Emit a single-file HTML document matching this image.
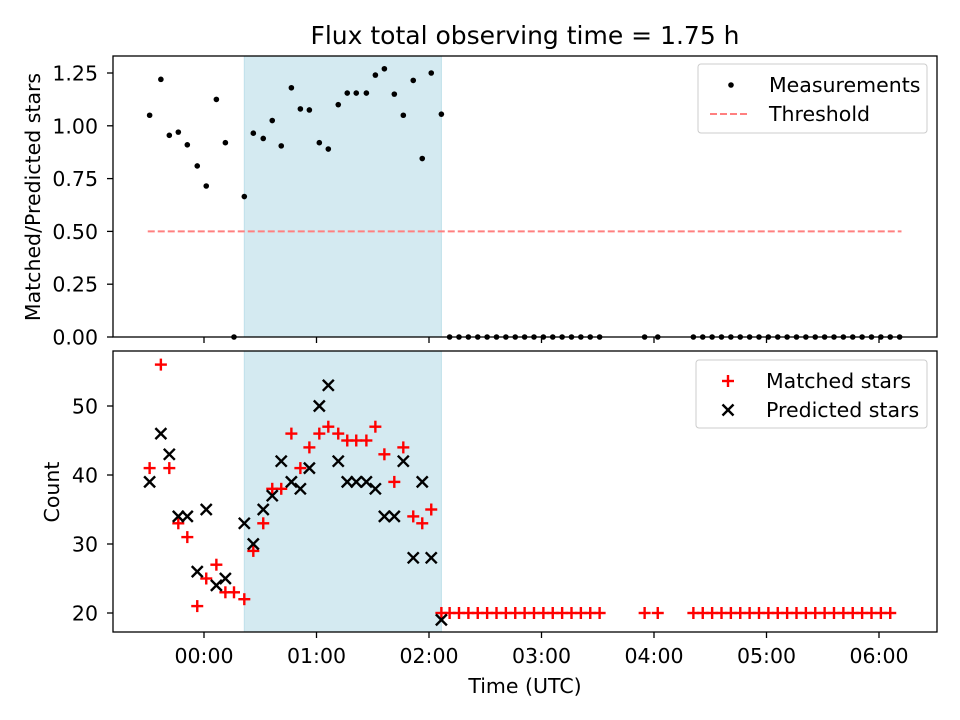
<!DOCTYPE html>
<html><head><meta charset="utf-8"><style>
body{margin:0;background:#fff}
svg{display:block;font-family:"DejaVu Sans","Liberation Sans",sans-serif}
</style></head><body>
<svg id="chart" width="960" height="720" viewBox="0 0 960 720"></svg>
<script>
const measTimes=[-29,-23,-18.5,-13.7,-8.9,-3.6,1.2,6.6,11.4,16,21.5,26.3,31.6,36.4,41.2,46.6,51.4,56.2,61.5,66.3,71.6,76.4,81.2,86.6,91.4,96.2,101.5,106.3,111.6,116.4,121.2,126.6,131,136,141,146,151,156,161,166,171,176,181,186,191,196,201,206,211,235,242,261,266,271,276,281,286,291,296,301,306,311,316,321,326,331,336,341,346,351,356,361,366,371];
const ratios=[1.05,1.22,0.955,0.97,0.91,0.81,0.715,1.125,0.92,0,0.665,0.965,0.94,1.025,0.905,1.18,1.08,1.075,0.92,0.89,1.10,1.155,1.155,1.155,1.24,1.27,1.15,1.05,1.215,0.845,1.25,1.055,0,0,0,0,0,0,0,0,0,0,0,0,0,0,0,0,0,0,0,0,0,0,0,0,0,0,0,0,0,0,0,0,0,0,0,0,0,0,0,0,0,0];
const matched=[41,56,41,33,31,21,25,27,23,23,22,29,33,38,38,46,41,44,46,47,46,45,45,45,47,43,39,44,34,33,35,20,20,20,20,20,20,20,20,20,20,20,20,20,20,20,20,20,20,20,20,20,20,20,20,20,20,20,20,20,20,20,20,20,20,20,20,20,20,20,20,20,20];
const predicted=[39,46,43,34,34,26,35,24,25,null,33,30,35,37,42,39,38,41,50,53,42,39,39,39,38,34,34,42,28,39,28,19];
const xTickMinutes=[0,60,120,180,240,300,360];
const xTickLabels=["00:00","01:00","02:00","03:00","04:00","05:00","06:00"];
const topTicks=[0,0.25,0.5,0.75,1.0,1.25];
const topTickLabels=["0.00","0.25","0.50","0.75","1.00","1.25"];
const botTicks=[20,30,40,50];
const spanStart=21.5, spanEnd=126.6, threshold=0.5, thrStart=-30, thrEnd=372;

const NS="http://www.w3.org/2000/svg";
const svg=document.getElementById('chart');
function el(tag,attrs,parent){const e=document.createElementNS(NS,tag);for(const k in attrs)e.setAttribute(k,attrs[k]);(parent||svg).appendChild(e);return e;}
const L=113,R=937;
const T1=56,B1=337,T2=351,B2=632;
const FS=20.5;
const xs=t=>204+t*1.875;
const y1=v=>337-v*211.2;
const y2=v=>613-(v-20)*6.9;

let s=el('rect',{x:xs(spanStart),y:T1,width:xs(spanEnd)-xs(spanStart),height:B1-T1,fill:'#d4eaf1',stroke:'#bfe0ea'});

s=el('rect',{x:xs(spanStart),y:T2,width:xs(spanEnd)-xs(spanStart),height:B2-T2,fill:'#d4eaf1',stroke:'#bfe0ea'});


let th=el('line',{x1:xs(thrStart),x2:xs(thrEnd),y1:y1(threshold),y2:y1(threshold),stroke:'#ff8080','stroke-width':2,'stroke-dasharray':'7,3'});


const gm=el('g',{});

measTimes.forEach((t,i)=>{const c=el('circle',{cx:xs(t),cy:y1(ratios[i]),r:2.8,fill:'#000'},gm);
});

function plus(x,y,p,c){const g=el('g',{stroke:c,'stroke-width':2.4},p);el('line',{x1:x-6,x2:x+6,y1:y,y2:y},g);el('line',{x1:x,x2:x,y1:y-6,y2:y+6},g);return g;}
function cross(x,y,p,c){const g=el('g',{stroke:c,'stroke-width':2.4},p);el('line',{x1:x-5.5,x2:x+5.5,y1:y-5.5,y2:y+5.5},g);el('line',{x1:x-5.5,x2:x+5.5,y1:y+5.5,y2:y-5.5},g);return g;}
const gms=el('g',{});
matched.forEach((v,i)=>{if(v==null)return;const m=plus(xs(measTimes[i]),y2(v),gms,'#f00');
});
const gps=el('g',{});
predicted.forEach((v,i)=>{if(v==null)return;const m=cross(xs(measTimes[i]),y2(v),gps,'#000');
});

let f=el('rect',{x:L,y:T1,width:R-L,height:B1-T1,fill:'none',stroke:'#000','stroke-width':1.3});

f=el('rect',{x:L,y:T2,width:R-L,height:B2-T2,fill:'none',stroke:'#000','stroke-width':1.3});


xTickMinutes.forEach((m,i)=>{const x=xs(m);
el('line',{x1:x,x2:x,y1:B1,y2:B1+6,stroke:'#000','stroke-width':1.3});
el('line',{x1:x,x2:x,y1:B2,y2:B2+6,stroke:'#000','stroke-width':1.3});
const t=el('text',{x:x,y:B2+31,'font-size':FS,'text-anchor':'middle'});t.textContent=xTickLabels[i];
});
topTicks.forEach((v,i)=>{const y=y1(v);el('line',{x1:L-6,x2:L,y1:y,y2:y,stroke:'#000','stroke-width':1.3});
const t=el('text',{x:L-15,y:y+7.5,'font-size':FS,'text-anchor':'end'});t.textContent=topTickLabels[i];
});
botTicks.forEach(v=>{const y=y2(v);el('line',{x1:L-6,x2:L,y1:y,y2:y,stroke:'#000','stroke-width':1.3});
const t=el('text',{x:L-15,y:y+7.5,'font-size':FS,'text-anchor':'end'});t.textContent=v;
});

let tt=el('text',{x:525,y:44,'font-size':25,'text-anchor':'middle'});tt.textContent='Flux total observing time = 1.75 h';

tt=el('text',{x:525,y:693,'font-size':FS,'text-anchor':'middle'});tt.textContent='Time (UTC)';

tt=el('text',{x:0,y:0,'font-size':FS,'text-anchor':'middle',transform:'translate(40,197) rotate(-90)'});tt.textContent='Matched/Predicted stars';

tt=el('text',{x:0,y:0,'font-size':FS,'text-anchor':'middle',transform:'translate(59,492) rotate(-90)'});tt.textContent='Count';


let lg=el('g',{});
el('rect',{x:698,y:64,width:229,height:69,rx:3,fill:'#fff','fill-opacity':0.8,stroke:'#ccc'},lg);
el('circle',{cx:731,cy:85,r:2.8,fill:'#000'},lg);
let lt=el('text',{x:769,y:92,'font-size':FS},lg);lt.textContent='Measurements';

el('line',{x1:710,x2:750,y1:114,y2:114,stroke:'#ff8080','stroke-width':2,'stroke-dasharray':'7,3'},lg);
lt=el('text',{x:769,y:121,'font-size':FS},lg);lt.textContent='Threshold';


lg=el('g',{});
el('rect',{x:696,y:360,width:231,height:68,rx:3,fill:'#fff','fill-opacity':0.8,stroke:'#ccc'},lg);
plus(728,381,lg,'#f00');
lt=el('text',{x:766,y:388,'font-size':FS},lg);lt.textContent='Matched stars';

cross(728,410,lg,'#000');
lt=el('text',{x:766,y:417,'font-size':FS},lg);lt.textContent='Predicted stars';

</script>
</body></html>
